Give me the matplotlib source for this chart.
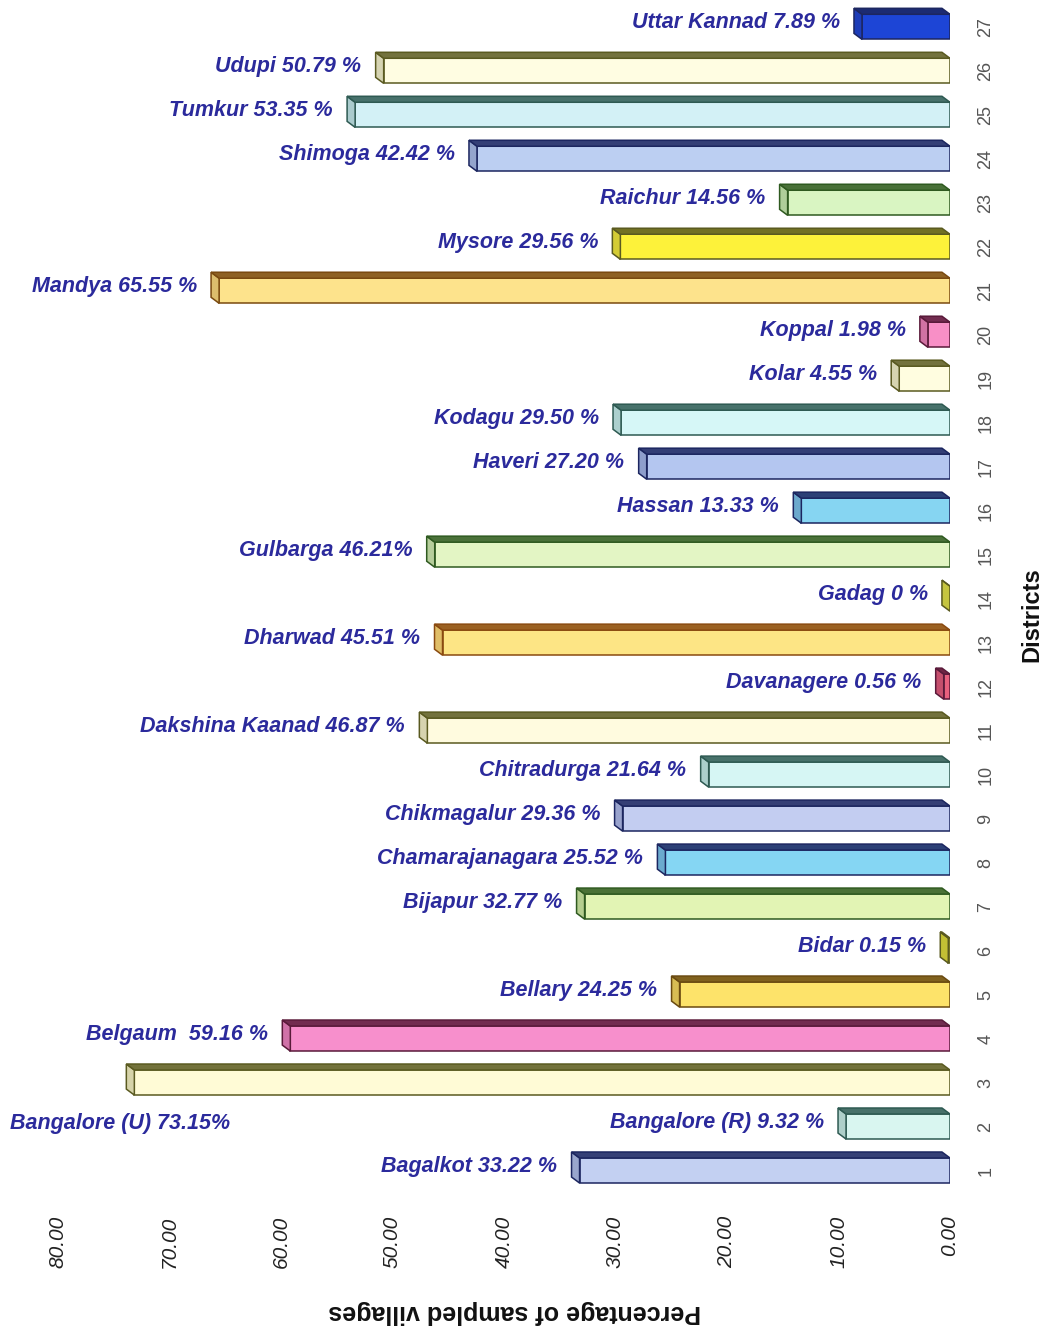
import matplotlib
matplotlib.use('Agg')

from matplotlib import pyplot as plt
from matplotlib.patches import Polygon
from matplotlib.colors import to_rgb
import numpy as np

plt.rcParams['font.family'] = ['Liberation Sans', 'DejaVu Sans']

#############data################
districtNr = list(range(1, 28))
districtNames = ['Bagalkot', 'Bangalore (R)', 'Bangalore (U)', 'Belgaum', 'Bellary', 'Bidar',
                 'Bijapur', 'Chamarajanagara', 'Chikmagalur', 'Chitradurga', 'Dakshina Kaanad',
                 'Davanagere', 'Dharwad', 'Gadag', 'Gulbarga', 'Hassan', 'Haveri', 'Kodagu',
                 'Kolar', 'Koppal', 'Mandya', 'Mysore', 'Raichur', 'Shimoga', 'Tumkur',
                 'Udupi', 'Uttar Kannad']
percentages = [33.22, 9.32, 73.15, 59.16, 24.25, 0.15, 32.77, 25.52, 29.36, 21.64, 46.87,
               0.56, 45.51, 0.0, 46.21, 13.33, 27.20, 29.50, 4.55, 1.98, 65.55, 29.56,
               14.56, 42.42, 53.35, 50.79, 7.89]
labelTexts = ['Bagalkot 33.22 %', 'Bangalore (R) 9.32 %', 'Bangalore (U) 73.15%',
              'Belgaum  59.16 %', 'Bellary 24.25 %', 'Bidar 0.15 %', 'Bijapur 32.77 %',
              'Chamarajanagara 25.52 %', 'Chikmagalur 29.36 %', 'Chitradurga 21.64 %',
              'Dakshina Kaanad 46.87 %', 'Davanagere 0.56 %', 'Dharwad 45.51 %', 'Gadag 0 %',
              'Gulbarga 46.21%', 'Hassan 13.33 %', 'Haveri 27.20 %', 'Kodagu 29.50 %',
              'Kolar 4.55 %', 'Koppal 1.98 %', 'Mandya 65.55 %', 'Mysore 29.56 %',
              'Raichur 14.56 %', 'Shimoga 42.42 %', 'Tumkur 53.35 %', 'Udupi 50.79 %',
              'Uttar Kannad 7.89 %']
xTicks = [0, 10, 20, 30, 40, 50, 60, 70, 80]

#############styles################
faceColors = ['#c3d0f2', '#d9f6f0', '#fffbd6', '#f78fcc', '#fde36a', '#e6e23a', '#e2f4b4',
              '#85d6f3', '#c3cdf1', '#d6f6f4', '#fffbdf', '#e8607e', '#fde585', '#e9e84a',
              '#e3f5c4', '#86d5f2', '#b4c6f0', '#d6f7f7', '#fffde0', '#f88fc6', '#fde38c',
              '#fdf23a', '#d9f5c2', '#bccff2', '#d3f1f6', '#fffde2', '#1d45d6']
navy, teal, olive, maroon, brown, green = '#1c2660', '#2e5a52', '#5a5a20', '#5a1a3a', '#6a4a10', '#2f5a20'
edgeColors = [navy, teal, olive, maroon, brown, olive, green, navy, navy, teal, olive, maroon,
              '#8a4a10', olive, green, navy, navy, teal, olive, maroon, '#7a4a10', olive,
              green, navy, teal, olive, navy]
textColor = '#2b2a9c'

def mix(c1, c2, t):
	a = np.array(to_rgb(c1))
	b = np.array(to_rgb(c2))
	return tuple(a * (1 - t) + b * t)

######################################
fig = plt.figure(figsize=(10.49, 13.35), dpi=100)
ax = fig.add_axes([0.0, 0.1011, 0.9056, 0.8989])

barH = 0.57
depthX = 0.72   # data units (x axis inverted -> to the left)
depthY = 0.136

ax.barh(districtNr, percentages, height=barH, color=faceColors, edgecolor=edgeColors,
        linewidth=1.1, zorder=3)

for y, v, fc, ec in zip(districtNr, percentages, faceColors, edgeColors):
	yb = y - barH / 2
	yt = y + barH / 2
	cap = Polygon([(v, yb), (v + depthX, yb + depthY), (v + depthX, yt + depthY), (v, yt)],
	              closed=True, facecolor=mix(fc, ec, 0.25), edgecolor=ec, linewidth=1.1, zorder=4)
	top = Polygon([(v, yt), (v + depthX, yt + depthY), (depthX, yt + depthY), (0, yt)],
	              closed=True, facecolor=mix(fc, ec, 0.85), edgecolor=ec, linewidth=1.1, zorder=4)
	ax.add_patch(cap)
	ax.add_patch(top)

for y, v, txt in zip(districtNr, percentages, labelTexts):
	if txt.startswith('Bangalore (U)'):
		ax.text(84.3, y - 0.94, txt, ha='left', va='center', fontsize=15.5, fontweight='bold',
		        fontstyle='italic', color=textColor, zorder=5)
	else:
		ax.text(v + 2.0, y + 0.1, txt, ha='right', va='center', fontsize=15.5, fontweight='bold',
		        fontstyle='italic', color=textColor, zorder=5)

ax.set_xlim(85.2, 0)
ax.set_ylim(0.329, 27.61)
for s in ax.spines.values():
	s.set_visible(False)

ax.set_xticks(xTicks)
ax.set_xticklabels(['%.2f' % t for t in xTicks])
ax.tick_params(axis='x', length=0, pad=11, labelsize=15, labelcolor='#222222')
for lbl in ax.get_xticklabels():
	lbl.set_rotation(90)
	lbl.set_fontstyle('italic')

ax.yaxis.tick_right()
ax.set_yticks(districtNr)
ax.set_yticklabels([str(n) for n in districtNr])
ax.tick_params(axis='y', length=0, pad=26, labelsize=13, labelcolor='#555555')
for lbl in ax.get_yticklabels():
	lbl.set_rotation(90)
	lbl.set_va('center')
	lbl.set_ha('center')

fig.text(1032 / 1049, 1 - 615 / 1335, 'Districts', rotation=90, ha='center', va='center',
         fontsize=17, fontweight='bold', color='#111111')
fig.text(515 / 1049, 1 - 1312 / 1335, 'Percentage of sampled villages', rotation=180,
         ha='center', va='center', fontsize=18, fontweight='bold', color='#111111')

plt.savefig('out.png', dpi=100)
